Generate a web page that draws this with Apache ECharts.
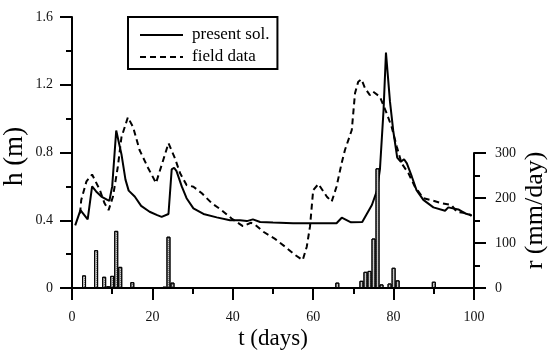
<!DOCTYPE html>
<html><head><meta charset="utf-8">
<script src="https://cdn.jsdelivr.net/npm/echarts@6/dist/echarts.min.js"></script>
<style>html,body{margin:0;padding:0;background:#fff}#c{width:550px;height:362px}</style>
</head><body><div id="c"></div>
<script>
const presentDays = [0.8,2.1,3.9,5.0,6.0,7.3,8.8,9.3,10.0,11.0,12.3,13.3,14.1,15.6,17.2,19.3,21.2,22.3,24.0,24.8,25.4,26.0,27.3,28.5,30.2,32.7,36.0,39.3,41.8,43.5,45.0,46.8,50,55,60,65.8,67.1,69.4,72.2,74.6,75.8,76.6,77.5,78.1,79.1,79.9,80.9,81.8,82.6,83.3,84.5,85.7,87.4,89.9,92.8,93.6,96.1,97.8,99.4];
const presentH = [0.37,0.46,0.405,0.60,0.57,0.54,0.52,0.515,0.60,0.93,0.79,0.64,0.575,0.54,0.485,0.45,0.43,0.42,0.437,0.70,0.71,0.69,0.60,0.53,0.47,0.437,0.417,0.40,0.40,0.395,0.405,0.39,0.387,0.383,0.382,0.382,0.415,0.388,0.39,0.49,0.57,0.70,1.05,1.39,1.10,0.93,0.77,0.745,0.76,0.736,0.66,0.578,0.52,0.476,0.456,0.476,0.464,0.44,0.43];
const fieldDays = [2.0,2.3,3.6,5.0,6.9,8.1,9.1,10.2,11.4,12.3,13.9,15.2,16.8,18.9,20.9,22.7,24.0,25.6,26.9,28.5,30.2,32.3,34.8,37.2,39.7,42.5,44.5,45.5,47.6,50.5,53,55.5,57.4,58.4,59.2,60.0,61.3,63.4,64.6,65.8,67.1,67.9,69.6,70.4,71.2,72.0,72.9,74.1,74.9,76.6,78.3,79.5,80.8,82.0,83.7,85.3,87.4,89.9,92,94.4,95.7,98.6,99.4];
const fieldH = [0.44,0.52,0.63,0.67,0.58,0.50,0.46,0.54,0.716,0.89,1.008,0.95,0.815,0.71,0.62,0.756,0.855,0.766,0.677,0.608,0.598,0.559,0.50,0.46,0.41,0.365,0.385,0.375,0.332,0.29,0.244,0.195,0.165,0.244,0.362,0.578,0.614,0.539,0.51,0.598,0.74,0.815,0.933,1.15,1.218,1.232,1.179,1.139,1.159,1.129,1.03,0.952,0.834,0.736,0.677,0.598,0.53,0.515,0.50,0.49,0.45,0.44,0.425];
const rainDays = [3,6,8,9,10,11,12,15,22,23,24,25,41,44,47,65,66,72,73,74,75,76,77,79,80,81,90];
const rainR = [28,84,25,4,27,127,47,13,1,3,114,12,2,2,2,2,12,16,36,38,110,266,8,10,45,17,14];
const xTicks = {min:0,max:100,interval:20};
const hTicks = {min:0,max:1.6,interval:0.4};
const rTicks = {min:0,max:300,interval:100};

const F = 'Liberation Serif';
const axisLine = () => ({show:true, onZero:false, lineStyle:{color:'#000', width:2}});
const tick = () => ({show:true, inside:false, length:12, lineStyle:{color:'#000', width:2}});
const minor = () => ({show:true, splitNumber:2, length:6, lineStyle:{color:'#000', width:2}});
const lab = (o) => Object.assign({fontFamily:F, fontSize:14, color:'#111'}, o);

// day categories for the bar grid (one slot per day)
const dayCats = [];
for (let d = xTicks.min; d <= xTicks.max; d++) dayCats.push(String(d));
const rainByDay = dayCats.map(() => null);
rainDays.forEach((d, i) => { rainByDay[d - xTicks.min] = rainR[i]; });

const chart = echarts.init(document.getElementById('c'));
chart.setOption({
  animation:false,
  backgroundColor:'#fff',
  legend:{
    orient:'vertical', left:128, top:17,
    borderColor:'#000', borderWidth:2,
    padding:[9,8,3,11], itemGap:4, itemWidth:43, itemHeight:14,
    itemStyle:{opacity:0},
    textStyle:{fontFamily:F, fontSize:17, color:'#000', lineHeight:18, padding:[0,0,0,4]},
    data:['present sol.','field data']
  },
  grid:[
    {left:72, right:76, top:17, bottom:74, outerBoundsMode:'none', containLabel:false},
    {left:72, right:76, top:153, bottom:74, outerBoundsMode:'none', containLabel:false}
  ],
  xAxis:[
    {gridIndex:0, type:'value', min:xTicks.min, max:xTicks.max, interval:xTicks.interval,
     axisLine:axisLine(), axisTick:tick(), minorTick:minor(), splitLine:{show:false},
     axisLabel:lab({margin:22}),
     name:'t (days)', nameLocation:'middle', nameGap:39, nameMoveOverlap:false,
     nameTextStyle:{fontFamily:F, fontSize:23, color:'#000'}},
    {gridIndex:1, type:'category', data:dayCats, boundaryGap:false, show:false}
  ],
  yAxis:[
    {gridIndex:0, type:'value', position:'left', min:hTicks.min, max:hTicks.max, interval:hTicks.interval,
     axisLine:axisLine(), axisTick:tick(), minorTick:minor(), splitLine:{show:false},
     axisLabel:lab({margin:19, formatter:v=>v===0?'0':v.toFixed(1)}),
     name:'h (m)', nameLocation:'middle', nameGap:44, nameRotate:90, nameMoveOverlap:false,
     nameTextStyle:{fontFamily:F, fontSize:27, color:'#000', padding:[0,8,0,0]}},
    {gridIndex:1, type:'value', position:'right', min:rTicks.min, max:rTicks.max, interval:rTicks.interval,
     axisLine:axisLine(), axisTick:tick(), minorTick:minor(), splitLine:{show:false},
     axisLabel:lab({margin:21}),
     name:'r (mm/day)', nameLocation:'middle', nameGap:48, nameRotate:90, nameMoveOverlap:false,
     nameTextStyle:{fontFamily:F, fontSize:26, color:'#000', padding:[0,0,0,20]}}
  ],
  series:[
    {name:'present sol.', type:'line', xAxisIndex:0, yAxisIndex:0, symbol:'none',
     lineStyle:{color:'#000', width:2}, itemStyle:{color:'#000'},
     data:presentDays.map((t,i)=>[t,presentH[i]]), z:2},
    {name:'field data', type:'line', xAxisIndex:0, yAxisIndex:0, symbol:'none',
     lineStyle:{color:'#000', width:2, type:[6,4]}, itemStyle:{color:'#000'},
     data:fieldDays.map((t,i)=>[t,fieldH[i]]), z:2},
    {name:'rain', type:'bar', xAxisIndex:1, yAxisIndex:1, barWidth:4,
     itemStyle:{color:'#c8c8c8', borderColor:'#000', borderWidth:1,
       decal:{symbol:'rect', symbolSize:1, dashArrayX:[1,1], dashArrayY:[1,1], color:'#777'}},
     data:rainByDay, z:3}
  ]
});
</script></body></html>
